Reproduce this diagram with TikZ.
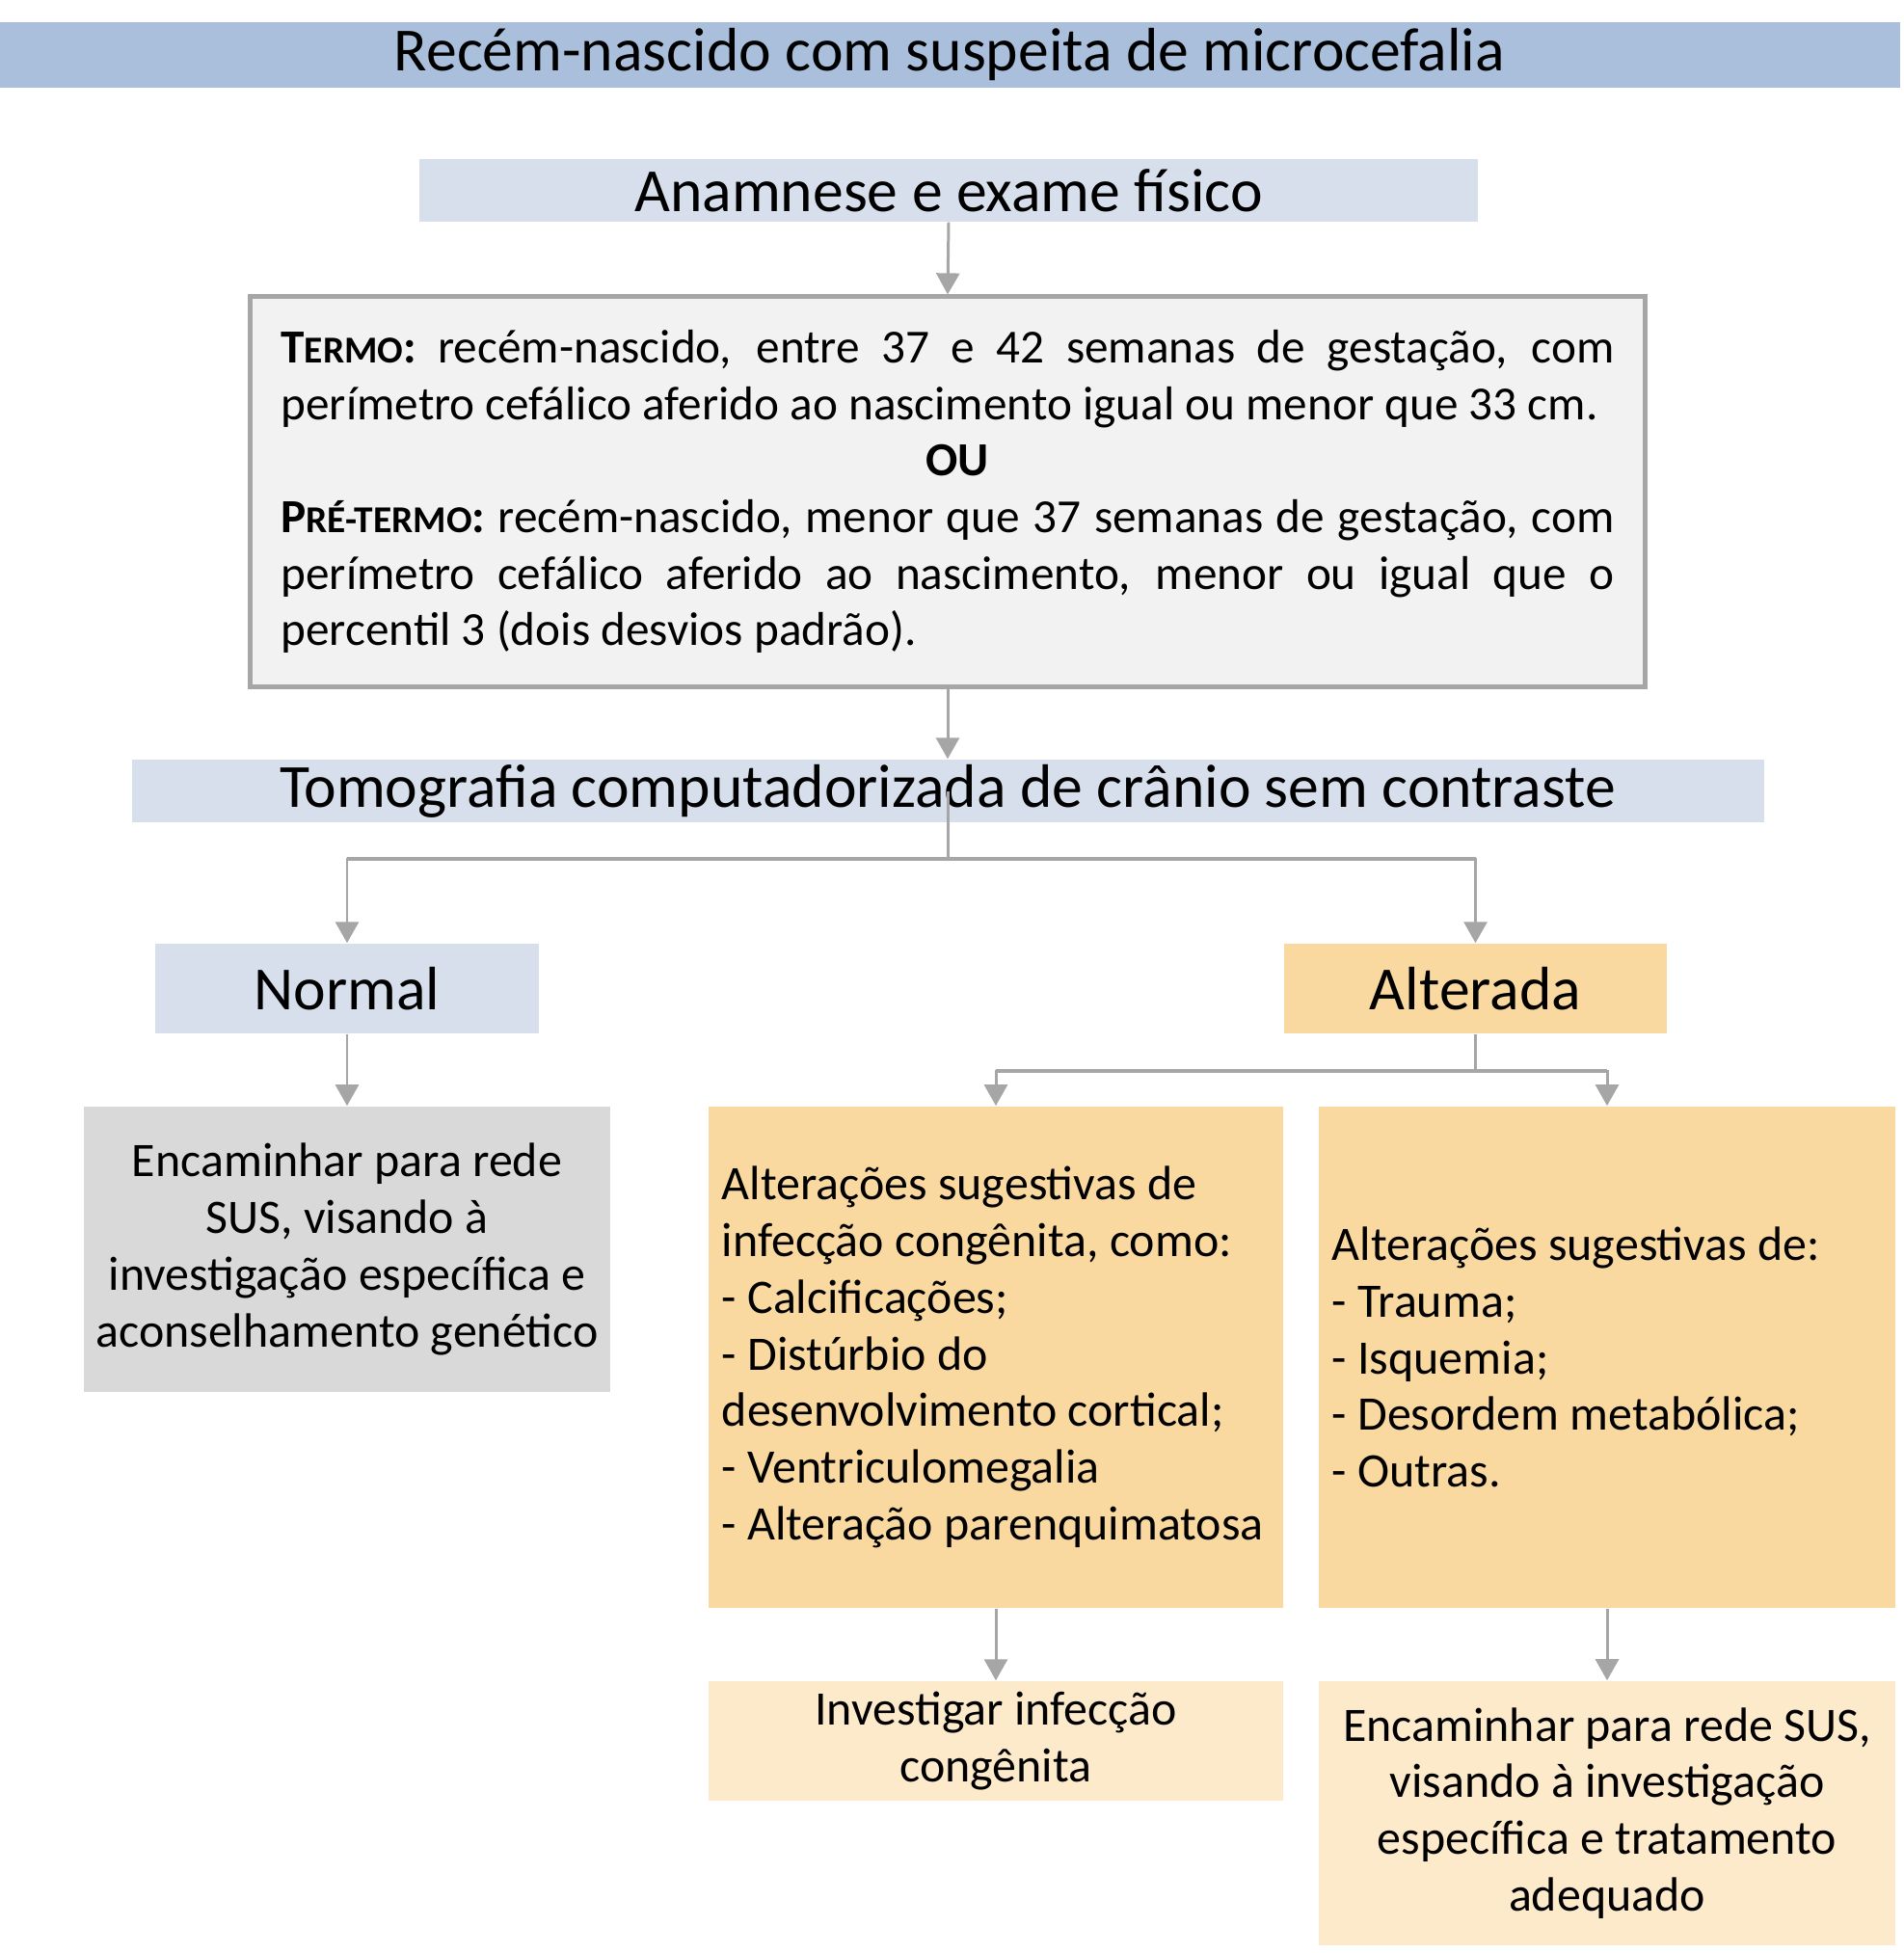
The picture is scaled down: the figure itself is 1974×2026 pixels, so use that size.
\documentclass[tikz,border=0pt]{standalone}
\usepackage{fontspec}
\setmainfont{Carlito}
\usetikzlibrary{arrows.meta}

\definecolor{titlebar}{HTML}{A9BFDC}
\definecolor{headblue}{HTML}{D6DFEB}
\definecolor{termofill}{HTML}{F2F2F2}
\definecolor{linegray}{HTML}{A6A6A6}
\definecolor{boxgray}{HTML}{D9D9D9}
\definecolor{boxorange}{HTML}{F9D99F}
\definecolor{boxlight}{HTML}{FCEACB}

\newcommand{\headfont}{\fontsize{18.1}{21}\selectfont}
\newcommand{\bodyfont}{\fontsize{14.2}{16.7}\selectfont}
\newcommand{\termofont}{\fontsize{14}{16.7}\selectfont}
\newcommand{\fakesc}[1]{{\fontsize{11.2}{13}\selectfont #1}}

\begin{document}
\begin{tikzpicture}[x=0.01cm, y=-0.01cm, >={Triangle[width=0.24cm,length=0.22cm]},
    head/.style={inner sep=0pt, font=\headfont, minimum height=0.65cm},
    textbox/.style={inner ysep=0pt, font=\bodyfont, minimum height=#1},
    link/.style={draw=linegray, line width=0.85pt, ->},
    bar/.style={draw=linegray, line width=1.2pt}]
    \useasboundingbox (0,0) rectangle (1974,2026);

    % Headers
    \node[head, fill=titlebar, minimum width=19.70cm, minimum height=0.68cm] (title) at (985,57) {Recém-nascido com suspeita de microcefalia};
    \node[head, fill=headblue, minimum width=10.98cm] (anamnese) at (984,197.5) {Anamnese e exame físico};

    % Criteria
    \node[draw=linegray, line width=0.05cm, fill=termofill, minimum width=14.47cm, minimum height=4.04cm,
          text width=13.82cm, inner xsep=0.325cm, inner ysep=0pt, font=\termofont, align=flush left] (criterio) at (983,510)
        {\makebox[13.82cm][s]{\textbf{T\fakesc{ERMO}:} recém-nascido, entre 37 e 42 semanas de gestação, com}\\
         perímetro cefálico aferido ao nascimento igual ou menor que 33 cm.\\
         \makebox[13.82cm][c]{\hspace{0.2cm}\textbf{OU}}\\
         \makebox[13.82cm][s]{\textbf{P\fakesc{RÉ-TERMO}:} recém-nascido, menor que 37 semanas de gestação, com}\\
         \makebox[13.82cm][s]{perímetro cefálico aferido ao nascimento, menor ou igual que o}\\
         percentil 3 (dois desvios padrão).};

    \node[head, fill=headblue, minimum width=16.92cm] (tomo) at (983,820.5) {Tomografia computadorizada de crânio sem contraste};

    % Results
    \node[head, fill=headblue, minimum width=3.98cm, minimum height=0.93cm] (normal) at (360,1025.5) {Normal};
    \node[head, fill=boxorange, minimum width=3.97cm, minimum height=0.93cm] (alterada) at (1530.5,1025.5) {Alterada};

    \node[textbox=2.96cm, fill=boxgray, minimum width=5.46cm, align=flush center] (sus) at (360,1296)
        {Encaminhar para rede\\SUS, visando à\\investigação específica e\\aconselhamento genético};
    \node[textbox=5.20cm, fill=boxorange, text width=5.68cm, inner xsep=0.14cm, align=flush left] (infec) at (1033,1408)
        {Alterações sugestivas de\\infecção congênita, como:\\- Calcificações;\\- Distúrbio do\\desenvolvimento cortical;\\- Ventriculomegalia\\- Alteração parenquimatosa};
    \node[textbox=5.20cm, fill=boxorange, text width=5.70cm, inner xsep=0.14cm, align=flush left] (outras) at (1667,1408)
        {Alterações sugestivas de:\\- Trauma;\\- Isquemia;\\- Desordem metabólica;\\- Outras.};

    \node[textbox=1.24cm, fill=boxlight, minimum width=5.96cm, align=flush center] (investigar) at (1033,1806)
        {Investigar infecção\\congênita};
    \node[textbox=2.74cm, fill=boxlight, minimum width=5.98cm, align=flush center] (tratamento) at (1667,1881)
        {Encaminhar para rede SUS,\\visando à investigação\\específica e tratamento\\adequado};

    % Connectors
    \coordinate (split1) at (983,891);
    \coordinate (split2) at (1530.5,1111);
    \draw[link] (anamnese.south) -- (criterio.north);
    \draw[link] (criterio.south) -- (tomo.north);
    \draw[link,-] (tomo.center) -- (split1);
    \draw[link] (split1) -| (normal.north);
    \draw[link] (split1) -| (alterada.north);
    \draw[bar] (normal.north |- split1) -- (alterada.north |- split1);
    \draw[link] (normal.south) -- (sus.north);
    \draw[link,-] (alterada.south) -- (split2);
    \draw[link] (split2) -| (infec.north);
    \draw[link] (split2) -| (outras.north);
    \draw[bar] (infec.north |- split2) -- (outras.north |- split2);
    \draw[link] (infec.south) -- (investigar.north);
    \draw[link] (outras.south) -- (tratamento.north);

\end{tikzpicture}
\end{document}
